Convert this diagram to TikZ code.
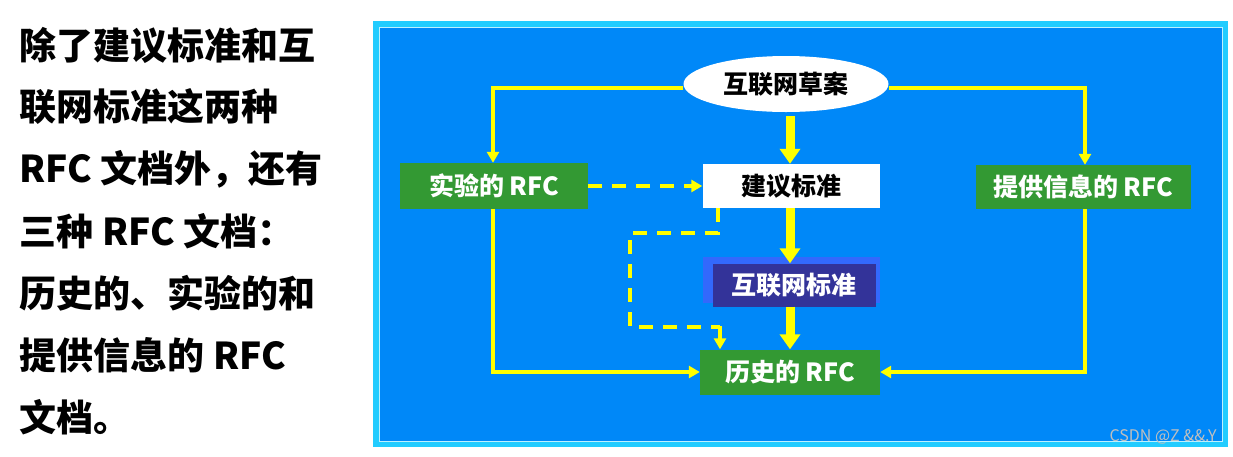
\documentclass[tikz,border=0pt]{standalone}
\usepackage{fontspec}
\setmainfont{Noto Sans CJK SC}
\usetikzlibrary{arrows.meta,shapes.geometric}
\definecolor{panel}{HTML}{0088F8}
\definecolor{edge}{HTML}{22CCFF}
\definecolor{grn}{HTML}{339933}
\definecolor{navy}{HTML}{333399}
\definecolor{ylw}{HTML}{FFFF00}
\begin{document}
\begin{tikzpicture}[x=1pt,y=-1pt,
  box/.style={draw=none,inner sep=0pt,font=\fontsize{25}{28}\selectfont\bfseries},
  thin/.style={draw=ylw,line width=3.5pt,-{Triangle[length=11pt,width=12pt]}},
  thick/.style={draw=ylw,line width=9pt,-{Triangle[length=15pt,width=20pt]}},
  ydash/.style={draw=ylw,line width=3.5pt,dash pattern=on 14pt off 10pt},
  lt/.style={anchor=west,font=\fontsize{37}{42}\selectfont\bfseries}]
\useasboundingbox (0,0) rectangle (1233,456);
\fill[edge] (373,21) rectangle (1228,447);
\fill[panel] (379,27) rectangle (1222,441);
\draw[white!70!edge,line width=1pt] (379,27) rectangle (1222,441);
% left text
\foreach \t [count=\i] in {除了建议标准和互,联网标准这两种,RFC 文档外，还有,三种 RFC 文档：,历史的、实验的和,提供信息的 RFC,文档。}
  \node[lt] at (16,45+62*\i-62) {\t};
% nodes
\node[ellipse,fill=white,minimum width=205pt,minimum height=56pt,inner sep=0pt,font=\fontsize{25}{28}\selectfont\bfseries] (draft) at (786,84) {互联网草案};
\node[box,fill=grn,text=white,minimum width=188pt,minimum height=46pt] (exp) at (494,186) {实验的 RFC};
\node[box,fill=white,minimum width=177pt,minimum height=44pt] (prop) at (791,186) {建议标准};
\node[box,fill=grn,text=white,minimum width=215pt,minimum height=44pt] (info) at (1083,187) {提供信息的 RFC};
\fill[blue!50!panel!80!white] (703,257) rectangle (880,303);
\node[box,fill=navy,text=white,minimum width=163pt,minimum height=43pt] (std) at (794,285) {互联网标准};
\node[box,fill=grn,text=white,minimum width=180pt,minimum height=45pt] (hist) at (790,372) {历史的 RFC};
% connectors
\draw[thin] (draft.west|-0,88) -- (493,88) -- (exp.north-|493,0);
\draw[thin] (draft.east|-0,88) -- (1085,88) -- (info.north-|1085,0);
\draw[thick] (790,116) -- (prop.north-|790,0);
\draw[thick] (prop.south-|790,0) -- (std.north-|790,0);
\draw[thick] (std.south-|790,0) -- (hist.north-|790,0);
\draw[thin] (exp.south-|493,0) -- (493,372) -- (hist.west|-0,372);
\draw[thin] (info.south-|1085,0) -- (1085,372) -- (hist.east|-0,372);
\draw[ydash,-{Triangle[length=11pt,width=12pt]}] (exp.east) -- (prop.west);
\draw[ydash] (prop.south-|718,0) -- (718,233) -- (630,233) -- (630,327) -- (720,327);
\draw[thin] (720,326) -- (hist.north-|720,0);
\node[text=gray!50,font=\fontsize{16}{18}\selectfont,anchor=east] (wm) at (1220,437) {CSDN @Z \&\&.Y};
\end{tikzpicture}
\end{document}
